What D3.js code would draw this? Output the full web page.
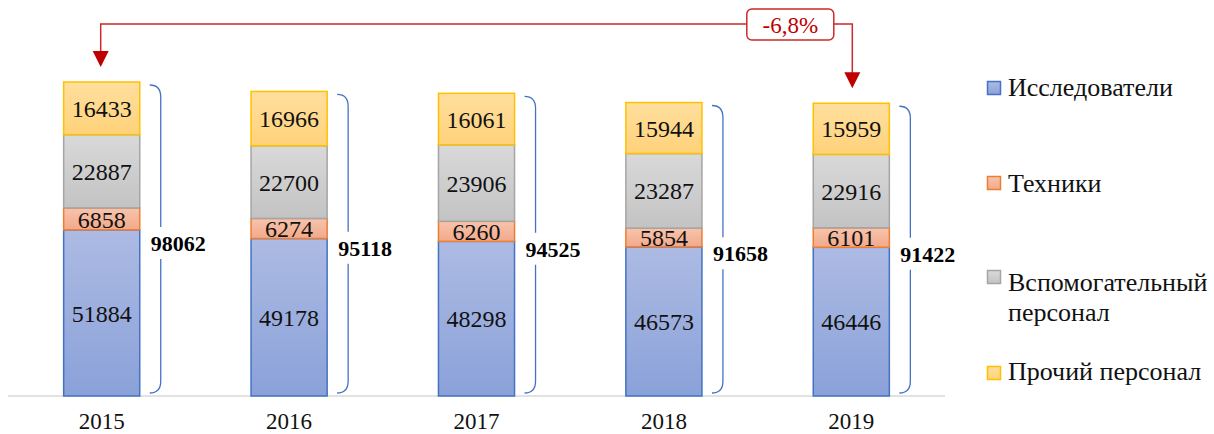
<!DOCTYPE html>
<html lang="ru">
<meta charset="utf-8">
<head>
    <script src="https://d3js.org/d3.v7.min.js"></script>
    <style>
        body { margin: 0; background: #fff; }
    </style>
</head>
<body>
<script>

// data
var years = ["2015", "2016", "2017", "2018", "2019"];
var seriesNames = ["Исследователи", "Техники", "Вспомогательный персонал", "Прочий персонал"];
var researchers = [51884, 49178, 48298, 46573, 46446];
var technicians = [6858, 6274, 6260, 5854, 6101];
var support = [22887, 22700, 23906, 23287, 22916];
var other = [16433, 16966, 16061, 15944, 15959];
var totals = [98062, 95118, 94525, 91658, 91422];

var width = 1214, height = 434;
var serif = "'Liberation Serif', 'Times New Roman', Times, 'DejaVu Serif', serif";

var svg = d3.select("body")
    .append("svg")
    .attr("width", width)
    .attr("height", height)
    .style("font-family", serif);

// gradients + colours per series
var fills = [
    { id: "gBlue", top: "#adbbe3", bottom: "#8aa1d9", stroke: "#4472c4" },
    { id: "gOrange", top: "#f7c4ad", bottom: "#f2a98a", stroke: "#ed7d31" },
    { id: "gGray", top: "#d9d9d9", bottom: "#c3c3c3", stroke: "#a5a5a5" },
    { id: "gYellow", top: "#ffdf9e", bottom: "#ffd27a", stroke: "#ffc000" }
];
var defs = svg.append("defs");
fills.forEach(function(f) {
    var g = defs.append("linearGradient")
        .attr("id", f.id)
        .attr("x1", 0).attr("y1", 0).attr("x2", 0).attr("y2", 1);
    g.append("stop").attr("offset", "0%").attr("stop-color", f.top);
    g.append("stop").attr("offset", "100%").attr("stop-color", f.bottom);
});

// scales
var x = d3.scaleBand()
    .domain(years)
    .range([8, 945])
    .paddingInner(0.594)
    .paddingOuter(0.297);

var y = d3.scaleLinear()
    .domain([0, 100000])
    .range([396, 75.8]);

// stacked data
var table = years.map(function(yr, i) {
    return { year: yr, s0: researchers[i], s1: technicians[i], s2: support[i], s3: other[i], total: totals[i] };
});
var stack = d3.stack().keys(["s0", "s1", "s2", "s3"]);
var layers = stack(table);

// baseline
svg.append("line")
    .attr("x1", x.range()[0]).attr("x2", x.range()[1])
    .attr("y1", y(0)).attr("y2", y(0))
    .attr("stroke", "#d9d9d9")
    .attr("stroke-width", 1.5);

var layerG = svg.selectAll(".layer")
    .data(layers)
    .enter().append("g")
    .attr("class", "layer");

layerG.selectAll("rect")
    .data(function(d, i) { return d.map(function(p) { return { p: p, i: i }; }); })
    .enter().append("rect")
    .attr("x", function(d) { return x(d.p.data.year); })
    .attr("width", x.bandwidth())
    .attr("y", function(d) { return y(d.p[1]); })
    .attr("height", function(d) { return y(d.p[0]) - y(d.p[1]); })
    .attr("fill", function(d) { return "url(#" + fills[d.i].id + ")"; })
    .attr("stroke", function(d) { return fills[d.i].stroke; })
    .attr("stroke-width", 1.5);

layerG.selectAll("text")
    .data(function(d) { return d; })
    .enter().append("text")
    .attr("x", function(d) { return x(d.data.year) + x.bandwidth() / 2; })
    .attr("y", function(d) { return (y(d[0]) + y(d[1])) / 2; })
    .attr("dy", "0.36em")
    .attr("text-anchor", "middle")
    .attr("font-size", 24)
    .attr("fill", "#111")
    .text(function(d) { return d[1] - d[0]; });

// braces with totals
table.forEach(function(d) {
    var x0 = x(d.year) + x.bandwidth() + 10;
    var x1 = x0 + 11;
    var top = y(d.total) + 3;
    var bot = y(0) - 3;
    var mid = (y(d.total) + y(0)) / 2 + 4;
    svg.append("path")
        .attr("d", "M" + x0 + "," + top + " Q" + x1 + "," + top + " " + x1 + "," + (top + 12) +
            " L" + x1 + "," + (mid - 16) +
            " M" + x1 + "," + (mid + 16) +
            " L" + x1 + "," + (bot - 12) +
            " Q" + x1 + "," + bot + " " + x0 + "," + bot)
        .attr("fill", "none")
        .attr("stroke", "#4472c4")
        .attr("stroke-width", 1.3);
    svg.append("text")
        .attr("x", x0 + 1)
        .attr("y", mid + 8)
        .attr("font-size", 22)
        .attr("font-weight", "bold")
        .attr("fill", "#000")
        .text(d.total);
});

// change arrow 2015 -> 2019
var first = table[0], last = table[table.length - 1];
var change = (last.total - first.total) / first.total * 100;
var changeLabel = change.toFixed(1).replace(".", ",") + "%";
var ax0 = x(first.year) + x.bandwidth() / 2 - 1;
var ax1 = x(last.year) + x.bandwidth() / 2 + 1;
var lineY = 24;
var red = "#c00000";

svg.append("path")
    .attr("d", "M" + ax0 + "," + (y(first.total) - 30) + " L" + ax0 + "," + lineY +
        " L" + ax1 + "," + lineY + " L" + ax1 + "," + (y(last.total) - 30))
    .attr("fill", "none")
    .attr("stroke", "#cc2a2a")
    .attr("stroke-width", 1.5);

[[ax0, first.total], [ax1, last.total]].forEach(function(a) {
    var tip = y(a[1]) - 15;
    svg.append("path")
        .attr("d", "M" + (a[0] - 8) + "," + (tip - 16) + " L" + (a[0] + 8) + "," + (tip - 16) + " L" + a[0] + "," + tip + " Z")
        .attr("fill", red);
});

var boxCx = ax1 - 62;
svg.append("rect")
    .attr("x", boxCx - 43.5).attr("y", 9)
    .attr("width", 87).attr("height", 31)
    .attr("rx", 5)
    .attr("fill", "#fff")
    .attr("stroke", "#cc2a2a")
    .attr("stroke-width", 1.5);
svg.append("text")
    .attr("x", boxCx).attr("y", 33)
    .attr("text-anchor", "middle")
    .attr("font-size", 23)
    .attr("fill", red)
    .text(changeLabel);

// year labels
svg.append("g")
    .selectAll("text")
    .data(years)
    .enter().append("text")
    .attr("x", function(d) { return x(d) + x.bandwidth() / 2; })
    .attr("y", 429)
    .attr("text-anchor", "middle")
    .attr("font-size", 23)
    .attr("fill", "#111")
    .text(function(d) { return d; });

// legend
var legendRows = [
    { top: 81, lines: [seriesNames[0]], base: 96 },
    { top: 176, lines: [seriesNames[1]], base: 192 },
    { top: 270, lines: ["Вспомогательный", "персонал"], base: 291 },
    { top: 366, lines: [seriesNames[3]], base: 380 }
];
legendRows.forEach(function(r, i) {
    svg.append("rect")
        .attr("x", 987.5).attr("y", r.top + 0.5)
        .attr("width", 13).attr("height", 13)
        .attr("fill", "url(#" + fills[i].id + ")")
        .attr("stroke", fills[i].stroke)
        .attr("stroke-width", 1.5);
    var t = svg.append("text")
        .attr("x", 1008)
        .attr("y", r.base)
        .attr("font-size", 26)
        .attr("fill", "#111");
    t.selectAll("tspan")
        .data(r.lines)
        .enter().append("tspan")
        .attr("x", 1008)
        .attr("dy", function(d, j) { return j === 0 ? 0 : 30; })
        .text(function(d) { return d; });
});

</script>
</body>
</html>
